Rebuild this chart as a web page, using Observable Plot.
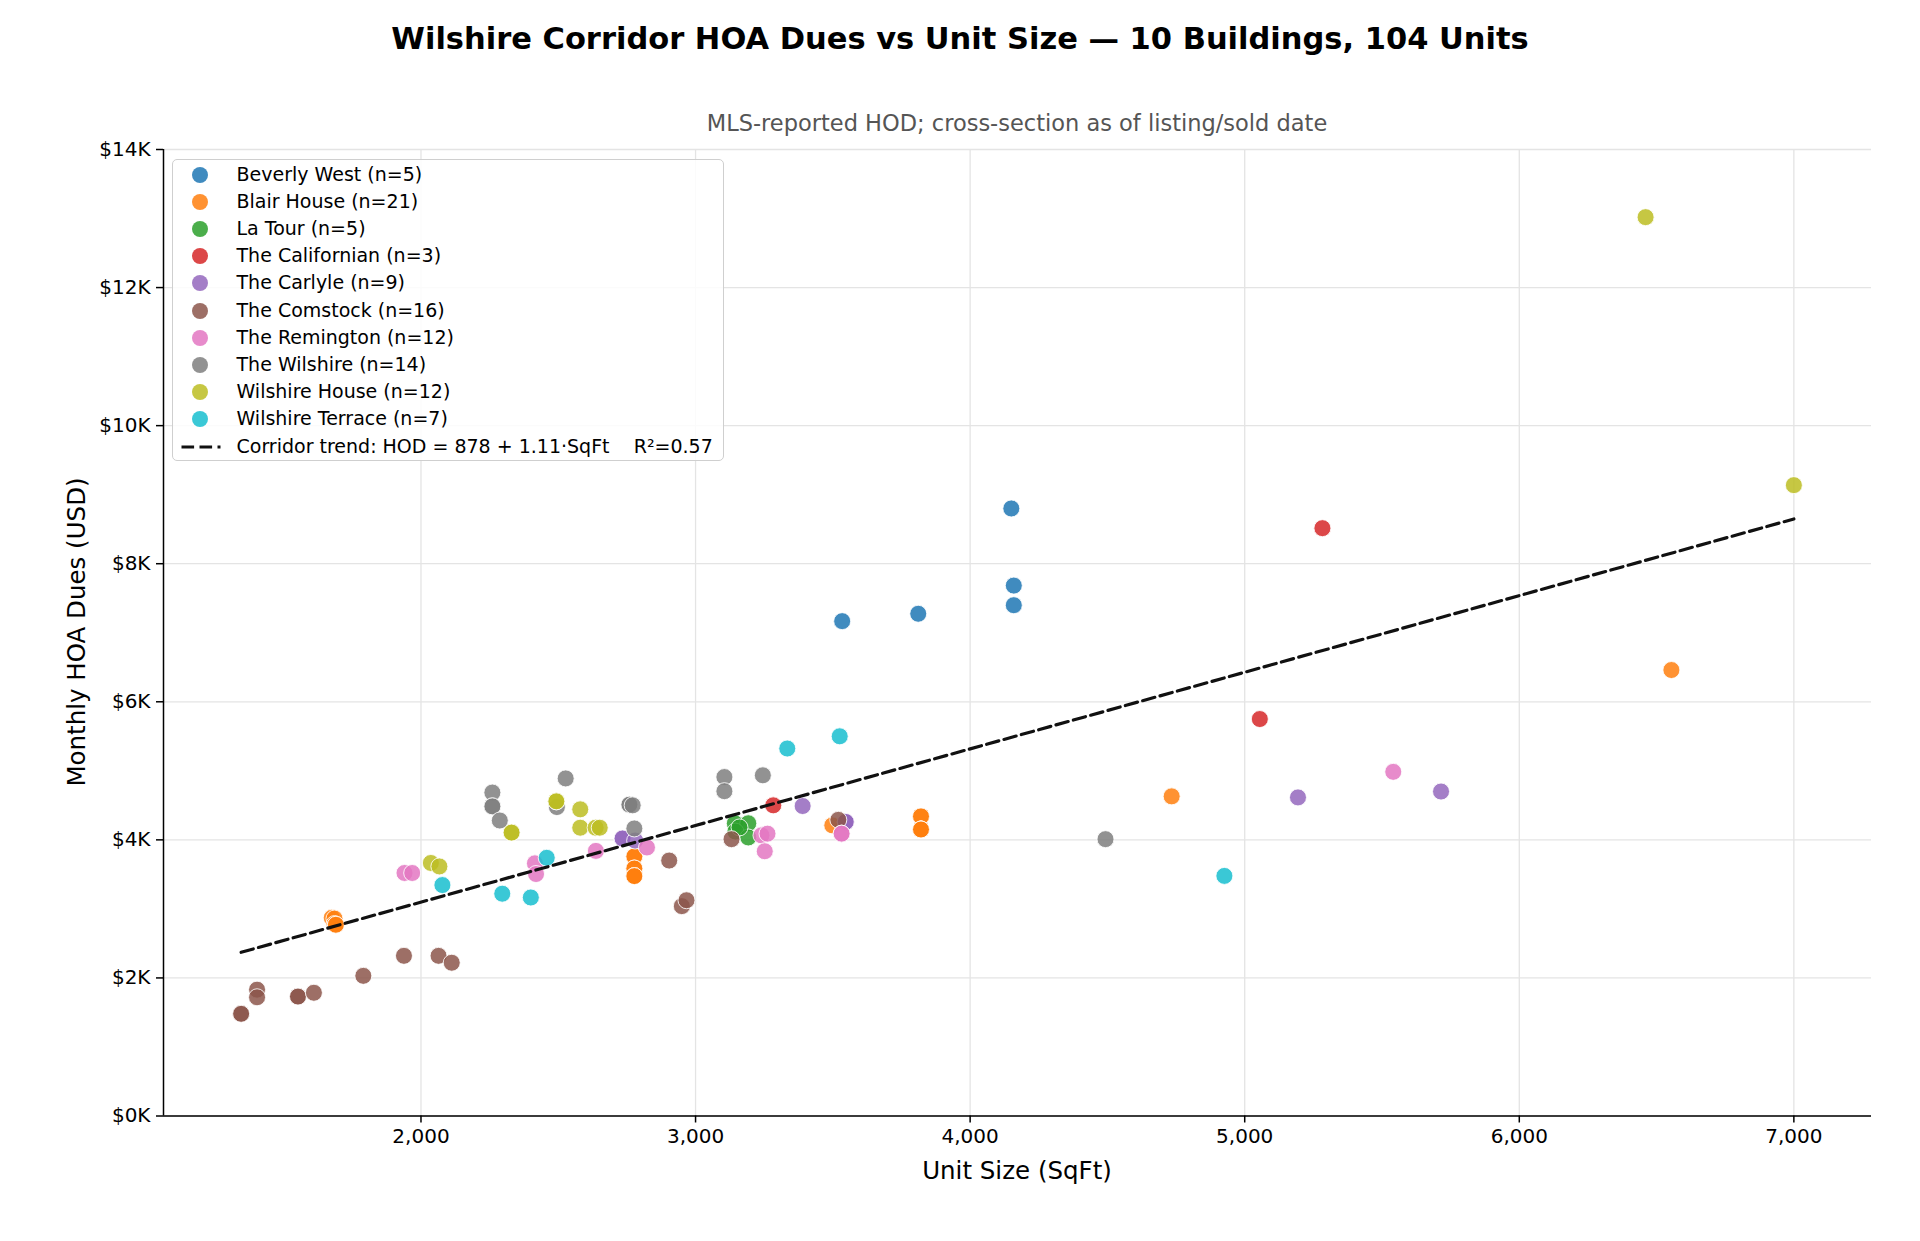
<!DOCTYPE html>
<html>
<head>
<meta charset="utf-8">
<script src="https://cdn.jsdelivr.net/npm/d3@7"></script>
<script src="https://cdn.jsdelivr.net/npm/@observablehq/plot@0.6"></script>
<style>
  html, body { margin: 0; padding: 0; background: #fff; }
  #wrap { position: relative; width: 1920px; height: 1241px; font-family: "DejaVu Sans", sans-serif; color: #000; overflow: hidden; }
  #chart { position: absolute; left: 0; top: 0; }
  .abs { position: absolute; white-space: nowrap; }
  #title { left: 0; width: 1920px; top: 21px; text-align: center; font-size: 30.5px; font-weight: bold; }
  #subtitle { left: 163px; width: 1708px; top: 110px; text-align: center; font-size: 22.5px; color: #555; }
  #xlabel { left: 163px; width: 1708px; top: 1156px; text-align: center; font-size: 24.5px; }
  #ylabel { left: 76px; top: 632px; font-size: 24.5px; transform: translate(-50%, -50%) rotate(-90deg); }
  #legend { left: 172px; top: 159px; width: 552px; height: 302px; box-sizing: border-box; border: 1.3px solid #cfcfcf; border-radius: 5px; background: rgba(255,255,255,0.85); }
  .ldot { position: absolute; width: 16px; height: 16px; border-radius: 50%; opacity: 0.85; }
  .ltxt { position: absolute; font-size: 19px; line-height: 19px; white-space: pre; }
</style>
</head>
<body>
<div id="wrap">
  <div id="chart"></div>
  <div id="title" class="abs"></div>
  <div id="subtitle" class="abs"></div>
  <div id="xlabel" class="abs"></div>
  <div id="ylabel" class="abs"></div>
  <div id="legend" class="abs"></div>
</div>
<script>
// ---------- data ----------
const titleText = "Wilshire Corridor HOA Dues vs Unit Size — 10 Buildings, 104 Units";
const subtitleText = "MLS-reported HOD; cross-section as of listing/sold date";
const xLabelText = "Unit Size (SqFt)";
const yLabelText = "Monthly HOA Dues (USD)";

const buildings = ["Beverly West", "Blair House", "La Tour", "The Californian", "The Carlyle",
  "The Comstock", "The Remington", "The Wilshire", "Wilshire House", "Wilshire Terrace"];
const palette = ["#1f77b4", "#ff7f0e", "#2ca02c", "#d62728", "#9467bd",
  "#8c564b", "#e377c2", "#7f7f7f", "#bcbd22", "#17becf"];

const unitSqft = [
  [3534, 3811, 4150, 4159, 4159],
  [1675, 1685, 1685, 1690, 1690, 2777, 2777, 2777, 2777, 2777, 2777, 2777, 3498, 3821, 3821, 3821, 3821, 3821, 3821, 4734, 6554],
  [3143, 3192, 3145, 3192, 3160],
  [3283, 5055, 5283],
  [2734, 2734, 2780, 3390, 3547, 3547, 3547, 5194, 5715],
  [1345, 1345, 1403, 1403, 1552, 1552, 1610, 1790, 1938, 2064, 2112, 2904, 2950, 2967, 3131, 3520],
  [1940, 1968, 2415, 2419, 2637, 2823, 3240, 3262, 3252, 3532, 3532, 5541],
  [2260, 2260, 2260, 2287, 2495, 2527, 2759, 2759, 2771, 2777, 3105, 3105, 3245, 4493],
  [2036, 2067, 2330, 2330, 2493, 2493, 2580, 2580, 2636, 2651, 6460, 7000],
  [2078, 2296, 2400, 2458, 3334, 3525, 4926]
];
const unitHoa = [
  [7168, 7275, 8800, 7683, 7399],
  [2870, 2860, 2780, 2770, 2770, 3760, 3760, 3585, 3585, 3475, 3475, 3475, 4210, 4340, 4340, 4150, 4150, 4150, 4150, 4630, 6460],
  [4240, 4240, 4120, 4035, 4180],
  [4500, 5750, 8515],
  [4020, 4020, 3990, 4490, 4260, 4260, 4260, 4615, 4700],
  [1480, 1480, 1830, 1720, 1730, 1730, 1785, 2030, 2320, 2320, 2220, 3700, 3040, 3125, 4010, 4290],
  [3520, 3520, 3660, 3505, 3840, 3890, 4065, 4090, 3835, 4090, 4090, 4985],
  [4685, 4485, 4485, 4280, 4475, 4890, 4510, 4510, 4500, 4165, 4910, 4705, 4935, 4010],
  [3665, 3615, 4105, 4105, 4558, 4558, 4442, 4176, 4176, 4176, 13020, 9138],
  [3345, 3220, 3165, 3740, 5323, 5500, 3478]
];

const trendIntercept = 878;
const trendSlope = 1.11;
const trendR2 = 0.57;

const xTicks = [2000, 3000, 4000, 5000, 6000, 7000];
const yTicks = [0, 2000, 4000, 6000, 8000, 10000, 12000, 14000];

// ---------- build table ----------
const points = [];
buildings.forEach((b, i) => {
  unitSqft[i].forEach((s, j) => points.push({building: b, sqft: s, hoa: unitHoa[i][j]}));
});
const allSqft = points.map(d => d.sqft);
const xMin = d3.min(allSqft), xMax = d3.max(allSqft);
const pad = (xMax - xMin) * 0.05;
const xDomain = [xMin - pad, xMax + pad];
const trend = [xMin, xMax].map(x => ({sqft: x, hoa: trendIntercept + trendSlope * x}));

// ---------- chart ----------
const gridStyle = {stroke: "#e4e4e4", strokeOpacity: 1, strokeWidth: 1.3};
const chart = Plot.plot({
  width: 1920,
  height: 1241,
  marginLeft: 163,
  marginRight: 49,
  marginTop: 149,
  marginBottom: 125.5,
  style: {fontFamily: "DejaVu Sans, sans-serif", fontSize: "20px", color: "#000", background: "white", overflow: "visible"},
  x: {domain: xDomain},
  y: {domain: [0, 14000]},
  color: {domain: buildings, range: palette},
  marks: [
    Plot.gridX(xTicks, gridStyle),
    Plot.gridY(yTicks, gridStyle),
    Plot.axisX(xTicks, {tickSize: 7, tickPadding: 6, strokeWidth: 1.5, tickFormat: d3.format(","), label: null, fontSize: 20}),
    Plot.axisY(yTicks, {tickSize: 7, tickPadding: 6, strokeWidth: 1.5, tickFormat: d => `$${d / 1000}K`, label: null, fontSize: 20}),
    Plot.ruleX([xDomain[0]], {stroke: "#000", strokeWidth: 1.5}),
    Plot.ruleY([0], {stroke: "#000", strokeWidth: 1.5}),
    Plot.dot(points, {x: "sqft", y: "hoa", fill: "building", fillOpacity: 0.85, stroke: "white", strokeOpacity: 0.85, strokeWidth: 1, r: 8.5}),
    Plot.line(trend, {x: "sqft", y: "hoa", stroke: "#111", strokeWidth: 3.2, strokeDasharray: "12.6,5.4"})
  ]
});
document.getElementById("chart").appendChild(chart);

document.getElementById("title").textContent = titleText;
document.getElementById("subtitle").textContent = subtitleText;
document.getElementById("xlabel").textContent = xLabelText;
document.getElementById("ylabel").textContent = yLabelText;

// ---------- legend ----------
const legend = document.getElementById("legend");
const rowY0 = 14.5, rowStep = 27.2, dotX = 27, textX = 63.5;
buildings.forEach((b, i) => {
  const cy = rowY0 + i * rowStep;
  const dot = document.createElement("div");
  dot.className = "ldot";
  dot.style.left = (dotX - 8) + "px";
  dot.style.top = (cy - 8) + "px";
  dot.style.background = palette[i];
  legend.appendChild(dot);
  const t = document.createElement("div");
  t.className = "ltxt";
  t.style.left = textX + "px";
  t.style.top = (cy - 10) + "px";
  t.textContent = `${b} (n=${unitSqft[i].length})`;
  legend.appendChild(t);
});
{
  const cy = rowY0 + buildings.length * rowStep;
  const svgNS = "http://www.w3.org/2000/svg";
  const s = document.createElementNS(svgNS, "svg");
  s.setAttribute("width", 50); s.setAttribute("height", 10);
  s.style.position = "absolute"; s.style.left = "7px"; s.style.top = (cy - 5) + "px";
  const l = document.createElementNS(svgNS, "line");
  l.setAttribute("x1", 1.5); l.setAttribute("x2", 40.5); l.setAttribute("y1", 5); l.setAttribute("y2", 5);
  l.setAttribute("stroke", "#111"); l.setAttribute("stroke-width", 3.2); l.setAttribute("stroke-dasharray", "12.6,5.4");
  s.appendChild(l);
  legend.appendChild(s);
  const t = document.createElement("div");
  t.className = "ltxt";
  t.style.left = textX + "px";
  t.style.top = (cy - 10) + "px";
  t.textContent = `Corridor trend: HOD = ${trendIntercept} + ${trendSlope}·SqFt    R²=${trendR2}`;
  legend.appendChild(t);
}
</script>
</body>
</html>
